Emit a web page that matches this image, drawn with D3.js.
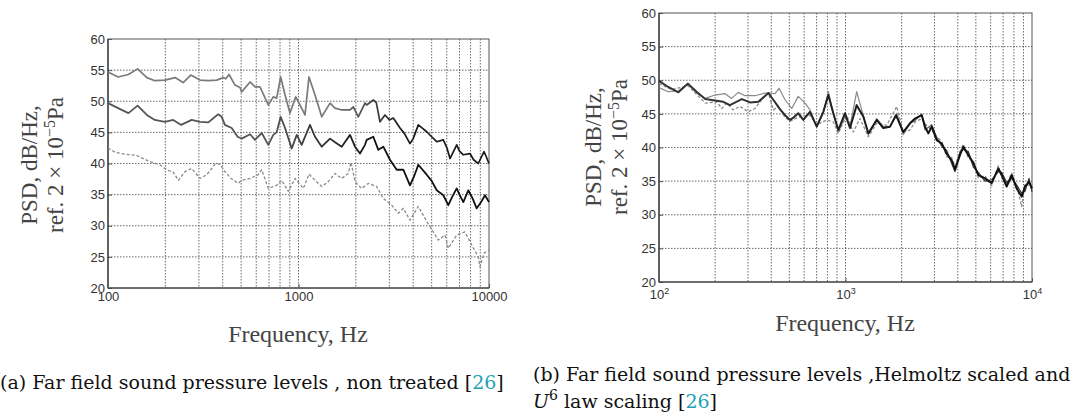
<!DOCTYPE html>
<html>
<head>
<meta charset="utf-8">
<script src="https://cdn.jsdelivr.net/npm/d3@7"></script>
<style>
  body { margin: 0; background: #fff; }
  svg { display: block; }
</style>
</head>
<body>
<div id="container"></div>
<script>
// ---- data (frequency in Hz, PSD in dB/Hz) ----
// (a) non treated: three flow speeds
var freqTopA = [100,113,128,143,160,176,199,225,248,272,304,336,372,403,415,432,464,493,503,557,591,628,694,737,768,806,850,902,967,1018,1082,1135,1221,1324,1464,1555,1686,1864,1940,2060,2234,2280,2470,2560,2678,2845,3000,3145,3411,3600,3848,4000,4255,4500,4710,5000,5317,5756,6000,6242,6769,7000,7331,7949,8300,8786,9415,9700,10000];
var psdTopA = [54.7,53.9,54.3,55.2,53.8,53.3,53.4,53.8,53.0,54.2,53.4,53.3,53.4,53.8,53.6,54.3,52.6,52.2,51.5,53.1,52.3,52.3,49.4,50.7,50.5,53.9,51.0,48.1,50.7,49.4,47.8,53.9,51.0,47.5,49.7,48.9,48.6,48.6,49.1,47.5,49.7,49.4,50.2,49.8,46.7,47.8,47.0,47.3,45.7,44.8,43.2,44.0,46.2,45.6,45.1,44.3,43.5,43.8,42.6,40.8,43.0,42.0,41.4,41.6,40.6,40.0,41.9,41.0,40.0];

var freqMidA = [100,113,128,143,160,176,199,220,242,275,304,336,379,395,411,446,479,503,557,591,641,694,737,768,806,850,921,979,1039,1149,1221,1324,1464,1555,1686,1864,1980,2103,2234,2280,2470,2624,2787,3022,3277,3550,3848,4050,4255,4710,5000,5317,5756,6115,6400,6769,7000,7331,7787,8200,8617,9000,9529,10000];
var psdMidA = [49.7,48.9,48.1,49.3,47.8,47.0,46.7,47.0,46.2,47.0,46.7,46.6,47.9,47.5,46.2,45.7,44.3,44.0,44.7,43.8,44.9,43.0,44.6,45.0,47.5,45.7,42.4,44.6,43.0,46.2,44.3,42.7,44.0,43.4,42.7,44.6,42.7,41.6,43.0,43.8,44.3,42.2,42.7,40.6,39.0,39.0,36.5,38.0,39.8,38.2,37.2,35.7,34.9,33.3,34.6,36.0,35.0,33.8,35.7,34.4,32.8,33.6,34.9,33.8];

var freqLowA = [100,109,123,141,163,187,203,220,234,254,275,304,330,365,387,408,420,442,483,503,557,615,641,694,768,816,884,959,1060,1135,1221,1324,1434,1555,1686,1826,1886,1980,2060,2147,2325,2574,2787,3085,3341,3550,3848,4255,4710,5102,5421,5875,6115,6769,7482,8114,8786,8968,9415,10000];
var psdLowA = [42.5,41.8,41.5,41.3,40.4,39.8,39.0,38.6,37.3,38.7,39.2,37.6,38.2,39.9,39.9,38.8,38.4,37.6,36.8,37.3,37.6,38.2,39.0,36.0,36.5,37.3,35.5,37.6,36.0,38.3,37.3,36.3,37.1,38.4,37.6,38.4,40.2,37.1,36.5,36.0,36.8,36.3,34.4,33.3,32.0,32.8,30.9,33.1,30.7,29.0,27.7,28.5,26.4,28.5,29.0,26.9,25.0,23.4,25.6,26.1];

// (b) Helmholtz + U^6 scaled
var freqBlackB = [100,112,127,143,159,177,200,221,240,278,308,341,386,410,445,474,504,523,558,594,645,701,760,809,860,915,994,1057,1148,1246,1326,1470,1595,1733,1866,2041,2217,2359,2563,2670,2780,2900,3083,3280,3487,3710,3865,4111,4282,4554,4845,5153,5598,6078,6597,6879,7315,7784,8278,8807,9173,9637,10000];
var psdBlackB = [49.9,49.0,48.2,49.5,48.3,47.2,47.0,46.8,46.3,47.2,46.7,46.8,48.1,47.1,45.7,44.8,44.1,44.4,45.1,44.1,45.3,43.1,45.3,47.8,45.1,42.6,45.1,42.9,46.3,44.6,42.1,44.1,42.9,43.1,44.8,42.3,43.6,44.3,44.8,43.1,42.1,43.1,41.1,40.6,39.1,38.1,36.7,38.9,40.1,38.9,37.7,35.9,35.4,34.7,36.9,35.9,34.2,35.9,33.9,32.7,34.2,34.9,33.9];

var freqGreyB = [100,112,127,143,159,177,200,226,245,266,289,327,370,394,419,440,474,515,558,607,645,701,760,809,860,915,994,1057,1148,1222,1326,1470,1595,1733,1882,2041,2217,2359,2563,2670,2900,3083,3280,3487,3710,3865,4111,4282,4554,4845,5153,5598,6078,6597,6879,7315,7784,8278,8807,9173,9637,10000];
var psdGreyB = [48.9,48.3,48.4,49.4,48.1,47.3,47.8,48.0,47.3,48.2,47.7,47.7,48.1,48.1,48.0,48.8,47.1,45.8,47.6,46.6,45.6,43.1,45.1,48.3,45.1,42.3,44.6,43.1,48.3,45.6,41.9,44.3,43.1,43.1,45.1,41.9,43.6,44.0,45.0,42.6,43.4,41.5,40.2,39.6,37.6,36.4,39.3,39.7,39.4,37.1,36.3,35.0,35.2,36.4,36.3,34.8,35.4,34.4,33.2,33.5,35.4,33.4];

var freqDashB = [100,117,143,177,204,217,231,250,272,301,327,355,386,410,436,474,504,570,645,701,793,860,915,1015,1101,1196,1326,1470,1663,1882,2041,2217,2359,2563,2670,2900,3083,3280,3487,3710,3865,4111,4282,4554,4845,5153,5598,6078,6597,6879,7315,7784,8278,8807,9173,9637,10000];
var psdDashB = [49.5,48.6,49.2,46.6,46.8,45.8,46.6,45.6,46.1,45.3,45.8,47.1,48.1,45.6,46.1,44.5,43.9,44.6,44.8,43.4,44.1,43.8,42.1,44.8,42.3,44.3,41.6,43.6,43.3,46.1,42.3,42.6,43.8,44.3,43.5,42.6,41.6,40.9,38.6,38.5,37.2,39.4,40.5,38.4,38.1,35.5,35.8,34.3,37.3,35.5,34.6,36.2,34.3,31.2,34.6,34.4,34.3];

// ticks
var yTicks = [20, 25, 30, 35, 40, 45, 50, 55, 60];
var xTicksA = [100, 1000, 10000];
var xTicksB = [100, 1000, 10000];

var W = 1078, H = 419;
var svg = d3.select("#container").append("svg")
  .attr("width", W).attr("height", H)
  .attr("id", "chart");

var defs = svg.append("defs");
var serif = "'Liberation Serif', 'Times New Roman', serif";
var sans = "'Liberation Sans', Arial, sans-serif";

function drawPanel(box) {
  var g = svg.append("g")
    .attr("transform", "translate(" + box.left + "," + box.top + ")");

  var x = d3.scaleLog().domain([100, 10000]).range([0, box.width]);
  var y = d3.scaleLinear().domain([20, 60]).range([box.height, 0]);

  // dotted grid (matlab style)
  g.append("g").selectAll("line")
    .data(x.ticks().filter(function(d) { return d > 100 && d < 10000; }))
    .join("line")
      .attr("x1", function(d) { return x(d); })
      .attr("x2", function(d) { return x(d); })
      .attr("y1", 0).attr("y2", box.height)
      .attr("stroke", "#444").attr("stroke-width", 0.8)
      .attr("stroke-dasharray", "1.5,1.5");
  g.append("g").selectAll("line")
    .data(yTicks.filter(function(d) { return d > 20 && d < 60; }))
    .join("line")
      .attr("x1", 0).attr("x2", box.width)
      .attr("y1", function(d) { return y(d); })
      .attr("y2", function(d) { return y(d); })
      .attr("stroke", "#444").attr("stroke-width", 0.8)
      .attr("stroke-dasharray", "1.5,1.5");

  // y axis
  var ya = g.append("g")
    .call(d3.axisLeft(y).tickValues(yTicks).tickSizeInner(-4).tickSizeOuter(0).tickPadding(3));
  ya.select(".domain").remove();
  ya.selectAll("line").attr("stroke", "#555");
  ya.selectAll("text")
    .attr("font-family", sans)
    .attr("font-size", 13).attr("fill", "#333");

  // frame
  g.append("rect")
    .attr("width", box.width).attr("height", box.height)
    .attr("fill", "none").attr("stroke", "#555").attr("stroke-width", 1);
  g.append("line").attr("x1", 0).attr("x2", 0).attr("y1", 0).attr("y2", box.height)
    .attr("stroke", "#333").attr("stroke-width", 1.2);
  g.append("line").attr("x1", 0).attr("x2", box.width).attr("y1", box.height).attr("y2", box.height)
    .attr("stroke", "#333").attr("stroke-width", 1.2);

  return { g: g, x: x, y: y };
}

function addLine(p, freqs, vals, stroke, width, dash) {
  var line = d3.line()
    .x(function(d) { return p.x(d[0]); })
    .y(function(d) { return p.y(d[1]); });
  p.g.append("path")
    .datum(d3.zip(freqs, vals))
    .attr("fill", "none")
    .attr("stroke", stroke)
    .attr("stroke-width", width)
    .attr("stroke-linejoin", "round")
    .attr("stroke-dasharray", dash || null)
    .attr("d", line);
}

// gradient so the dense high-frequency part looks darker, as in the scan
function addGradient(id, p, f0, f1, c0, c1) {
  var gr = defs.append("linearGradient").attr("id", id)
    .attr("gradientUnits", "userSpaceOnUse")
    .attr("x1", p.x(f0)).attr("x2", p.x(f1)).attr("y1", 0).attr("y2", 0);
  gr.append("stop").attr("offset", 0).attr("stop-color", c0);
  gr.append("stop").attr("offset", 1).attr("stop-color", c1);
  return "url(#" + id + ")";
}

function yTitle(cx, cy, gap) {
  var t = svg.append("g")
    .attr("transform", "translate(" + cx + "," + cy + ") rotate(-90)")
    .attr("font-family", serif)
    .attr("font-size", 23).attr("fill", "#444")
    .attr("text-anchor", "middle");
  t.append("text").attr("x", 0).attr("y", 0).text("PSD, dB/Hz,");
  var t2 = t.append("text").attr("x", 0).attr("y", gap);
  t2.append("tspan").text("ref. 2 \u00d7 10");
  t2.append("tspan").attr("dy", -8).attr("font-size", 16).text("\u22125");
  t2.append("tspan").attr("dy", 8).text("Pa");
}

function xTitle(cx, by) {
  svg.append("text")
    .attr("x", cx).attr("y", by)
    .attr("text-anchor", "middle")
    .attr("font-family", serif)
    .attr("font-size", 24).attr("fill", "#444")
    .text("Frequency, Hz");
}

// ---------------- panel (a) ----------------
var pa = drawPanel({ left: 108, top: 39, width: 381, height: 249 });
var xa = pa.g.append("g")
  .attr("transform", "translate(0," + 249 + ")")
  .call(d3.axisBottom(pa.x).tickValues(xTicksA).tickFormat(d3.format("d"))
    .tickSizeInner(-4).tickSizeOuter(0).tickPadding(4));
xa.select(".domain").remove();
xa.selectAll("line").attr("stroke", "#555");
xa.selectAll("text")
  .attr("font-family", sans)
  .attr("font-size", 13).attr("fill", "#333");

addLine(pa, freqLowA, psdLowA, "#8a8a8a", 1.3, "3,2");
addLine(pa, freqMidA, psdMidA, addGradient("gMidA", pa, 700, 2500, "#555", "#111"), 1.8);
addLine(pa, freqTopA, psdTopA, addGradient("gTopA", pa, 1500, 3500, "#7a7a7a", "#1a1a1a"), 1.7);

yTitle(37, 165, 26);
xTitle(298, 342);

// ---------------- panel (b) ----------------
var pb = drawPanel({ left: 659, top: 13, width: 373, height: 269 });
var xb = pb.g.append("g")
  .attr("transform", "translate(0," + 269 + ")")
  .call(d3.axisBottom(pb.x).tickValues(xTicksB).tickFormat(function() { return ""; })
    .tickSizeInner(-4).tickSizeOuter(0).tickPadding(8));
xb.select(".domain").remove();
xb.selectAll("line").attr("stroke", "#555");
xb.selectAll("text")
  .attr("font-family", sans)
  .attr("font-size", 13).attr("fill", "#333")
  .each(function(d) {
    var t = d3.select(this);
    t.append("tspan").text("10");
    t.append("tspan").attr("dy", "-0.55em").attr("font-size", 9)
      .text(Math.round(Math.log10(d)));
  });

addLine(pb, freqDashB, psdDashB, "#8a8a8a", 1.3, "3,2");
addLine(pb, freqGreyB, psdGreyB, addGradient("gGreyB", pb, 2000, 4000, "#8a8a8a", "#333"), 1.2);
addLine(pb, freqBlackB, psdBlackB, addGradient("gBlackB", pb, 300, 2500, "#333", "#111"), 2);

yTitle(601, 147, 26);
xTitle(845, 331);

// ---------------- captions ----------------
var capFont = "'DejaVu Serif', 'Liberation Serif', serif";
var capA = svg.append("text")
  .attr("x", 0).attr("y", 389)
  .attr("font-family", capFont).attr("font-size", 19).attr("fill", "#111");
capA.append("tspan").text("(a) Far field sound pressure levels , non treated [");
capA.append("tspan").attr("fill", "#1fa2b6").text("26");
capA.append("tspan").text("]");

var capB1 = svg.append("text")
  .attr("x", 533).attr("y", 381)
  .attr("font-family", capFont).attr("font-size", 19).attr("fill", "#111")
  .text("(b) Far field sound pressure levels ,Helmoltz scaled and");
var capB2 = svg.append("text")
  .attr("x", 533).attr("y", 408)
  .attr("font-family", capFont).attr("font-size", 19).attr("fill", "#111");
capB2.append("tspan").attr("font-style", "italic").text("U");
capB2.append("tspan").attr("dy", -8).attr("font-size", 14).text("6");
capB2.append("tspan").attr("dy", 8).text(" law scaling [");
capB2.append("tspan").attr("fill", "#1fa2b6").text("26");
capB2.append("tspan").text("]");
</script>
</body>
</html>
